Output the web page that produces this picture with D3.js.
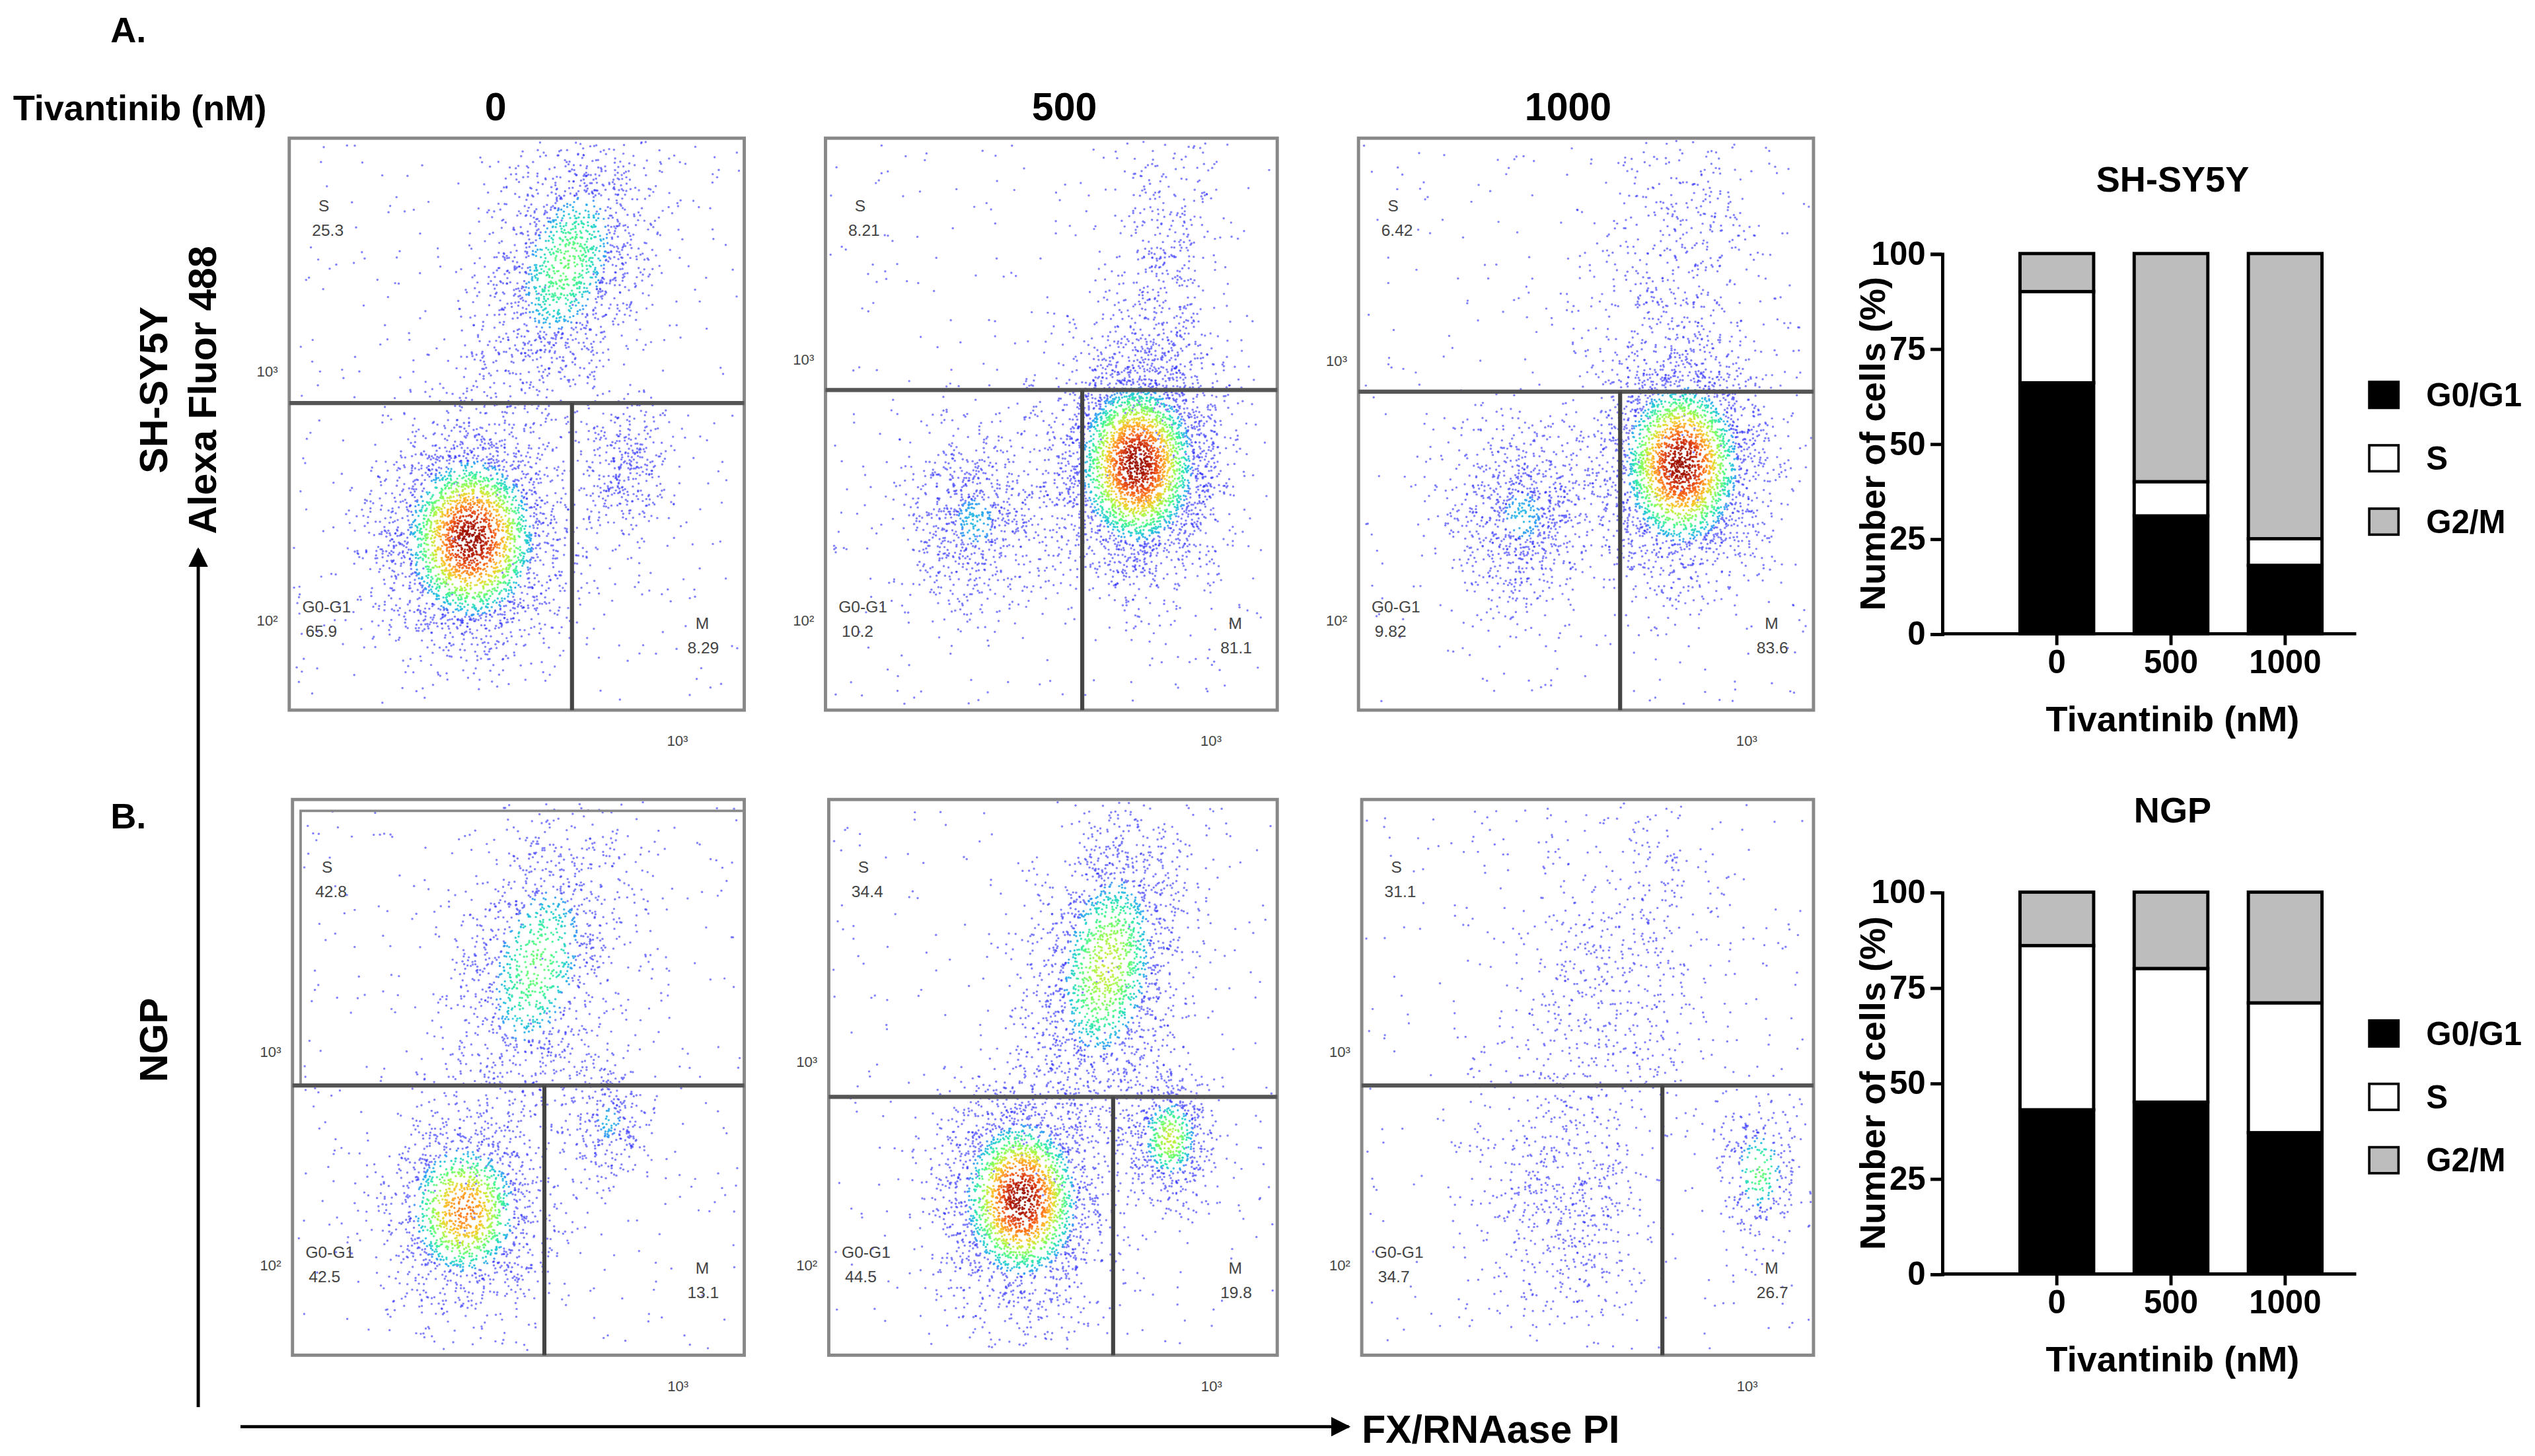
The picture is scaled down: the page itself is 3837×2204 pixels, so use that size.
<!DOCTYPE html>
<html><head><meta charset="utf-8">
<script src="https://cdn.jsdelivr.net/npm/d3@7"></script>
<style>body{margin:0;background:#fff}svg{display:block}</style></head>
<body><svg id="c" width="3837" height="2204" viewBox="0 0 1560 896"></svg>
<script>
// ---- data ----
const doses = ["0","500","1000"];
const phases = ["G0/G1","S","G2/M"];
const shsy5yG1 = [66,31,18], shsy5yS = [24,9,7], shsy5yG2 = [10,60,75];
const ngpG1 = [43,45,37], ngpS = [43,35,34], ngpG2 = [14,20,29];
const yTicks = [0,25,50,75,100];
const phaseColors = ["#000","#fff","#bdbdbd"];
// gate percentages [S, G0-G1, M]
const gatesA = [["25.3","65.9","8.29"],["8.21","10.2","81.1"],["6.42","9.82","83.6"]];
const gatesB = [["42.8","42.5","13.1"],["34.4","44.5","19.8"],["31.1","34.7","26.7"]];
// population descriptors per panel: [cx, cy, sx, sy, n, intensity, tilt]
const popsA = [
 [[0.40,0.70,0.10,0.10,3000,1.0,0],[0.61,0.22,0.10,0.12,1600,0.6,-0.5],[0.74,0.58,0.05,0.06,350,0.4,0]],
 [[0.33,0.67,0.08,0.08,800,0.45,0],[0.69,0.57,0.09,0.10,3500,1.0,0],[0.75,0.25,0.06,0.16,500,0.3,-0.6]],
 [[0.36,0.66,0.08,0.08,900,0.45,0],[0.71,0.57,0.09,0.10,3000,1.0,0],[0.70,0.20,0.10,0.13,450,0.25,-0.3]]];
const popsB = [
 [[0.38,0.74,0.09,0.09,1600,0.85,0],[0.54,0.30,0.10,0.14,1300,0.6,-0.5],[0.70,0.58,0.05,0.06,300,0.45,0]],
 [[0.43,0.72,0.09,0.10,2600,1.0,0],[0.62,0.30,0.09,0.14,1900,0.7,-0.4],[0.76,0.61,0.05,0.06,650,0.7,0]],
 [[0.45,0.75,0.10,0.10,500,0.4,0],[0.55,0.35,0.13,0.16,700,0.3,-0.3],[0.88,0.67,0.05,0.07,300,0.6,0]]];
// panel geometry (reference units)
const panelsA = [{x0:178,x1:458,y0:85,y1:437,gy:248,gx:352},{x0:508,x1:786,y0:85,y1:437,gy:240,gx:666},{x0:836,x1:1116,y0:85,y1:437,gy:241,gx:997}];
const panelsB = [{x0:180,x1:458,y0:492,y1:834,gy:668,gx:335,box:true},{x0:510,x1:786,y0:492,y1:834,gy:675,gx:685},{x0:838,x1:1116,y0:492,y1:834,gy:668,gx:1023}];

const svg = d3.select("#c");
const F = "Arial, 'Liberation Sans', sans-serif";
function txt(x,y,s,size,opt={}){
  const t=svg.append("text").attr("x",x).attr("y",y).text(s).attr("font-family",F).attr("font-size",size)
   .attr("font-weight",opt.w||"bold").attr("text-anchor",opt.a||"start").attr("fill",opt.f||"#000");
  if(opt.r) t.attr("transform",`rotate(-90,${x},${y})`);
  return t;
}
txt(68,26,"A.",22); txt(68,510,"B.",22);
txt(8,74,"Tivantinib (nM)",22);
[305,655,965].forEach((x,i)=>txt(x,74,doses[i],24,{a:"middle"}));
txt(103,240,"SH-SY5Y",24,{a:"middle",r:1});
txt(133,240,"Alexa Fluor 488",24,{a:"middle",r:1});
txt(103,640,"NGP",24,{a:"middle",r:1});

svg.append("defs").append("marker").attr("id","ah").attr("viewBox","0 0 10 10").attr("refX",9).attr("refY",5)
 .attr("markerWidth",6).attr("markerHeight",6).attr("orient","auto").append("path").attr("d","M0,0L10,5L0,10z");
svg.append("line").attr("x1",122).attr("y1",866).attr("x2",122).attr("y2",338).attr("stroke","#000").attr("stroke-width",2).attr("marker-end","url(#ah)");
svg.append("line").attr("x1",148).attr("y1",878).attr("x2",830).attr("y2",878).attr("stroke","#000").attr("stroke-width",2).attr("marker-end","url(#ah)");
txt(838,888,"FX/RNAase PI",24);

const rng = d3.randomLcg(0.4242);
const norm = d3.randomNormal.source(rng)(0,1);
function dotColor(d){
  if(d<0.4) return "#2e2eff";
  return d3.interpolateTurbo(0.18+0.78*(d-0.4)/0.6);
}
function drawPanel(p,pops,g){
  const xs=d3.scaleLinear().domain([0,1]).range([p.x0,p.x1]);
  const ys=d3.scaleLinear().domain([0,1]).range([p.y0,p.y1]);
  const gr=svg.append("g");
  const pts=[];
  for(let i=0;i<350;i++) pts.push([rng()*0.98+0.01,rng()*0.98+0.01,0]);
  pops.forEach(([cx,cy,sx,sy,n,inten,tilt])=>{
    for(let i=0;i<n;i++){
      const a=norm(),b=norm();
      const dx=a*sx, dy=b*sy+tilt*a*sx;
      const x=cx+dx, y=cy+dy;
      if(x<0.005||x>0.995||y<0.005||y>0.995) continue;
      const d=Math.exp(-(a*a+b*b)/2)*inten;
      pts.push([x,y,d]);
    }
  });
  pts.sort((u,v)=>u[2]-v[2]);
  gr.selectAll("circle").data(pts).join("circle")
   .attr("cx",d=>xs(d[0])).attr("cy",d=>ys(d[1])).attr("r",0.7)
   .attr("fill",d=>dotColor(d[2]))
   .attr("fill-opacity",d=>d[2]<0.4?0.6:0.9);
  svg.append("rect").attr("x",p.x0).attr("y",p.y0).attr("width",p.x1-p.x0).attr("height",p.y1-p.y0)
   .attr("fill","none").attr("stroke","#888").attr("stroke-width",2);
  if(p.box) svg.append("rect").attr("x",p.x0+5).attr("y",p.y0+7).attr("width",p.x1-p.x0-5).attr("height",p.gy-p.y0-7).attr("fill","none").attr("stroke","#888").attr("stroke-width",1.5);
  svg.append("line").attr("x1",p.x0).attr("x2",p.x1).attr("y1",p.gy).attr("y2",p.gy).attr("stroke","#555").attr("stroke-width",2.5);
  svg.append("line").attr("x1",p.gx).attr("x2",p.gx).attr("y1",p.gy).attr("y2",p.y1).attr("stroke","#444").attr("stroke-width",2.5);
  const o={w:"normal",f:"#444"};
  txt(p.x0+18,p.y0+45,"S",10,o); txt(p.x0+14,p.y0+60,g[0],10,o);
  txt(p.x0+8,p.y1-60,"G0-G1",10,o); txt(p.x0+10,p.y1-45,g[1],10,o);
  txt(p.x1-30,p.y1-50,"M",10,o); txt(p.x1-35,p.y1-35,g[2],10,o);
  txt(p.x0-20,p.y0+(p.gy-p.y0)*0.9,"10³",9,o);
  txt(p.x0-20,p.y1-52,"10²",9,o);
  txt(p.x0+(p.x1-p.x0)*0.83,p.y1+22,"10³",9,o);
}
panelsA.forEach((p,i)=>drawPanel(p,popsA[i],gatesA[i]));
panelsB.forEach((p,i)=>drawPanel(p,popsB[i],gatesB[i]));

function barChart(title,g1,s,g2,y0,y100,titleY,legY){
  const x=d3.scaleBand().domain(doses).range([1222,1450]).paddingInner(0.355).paddingOuter(0.3);
  const y=d3.scaleLinear().domain([0,100]).range([y0,y100]);
  const stack=doses.map((d,i)=>[g1[i],s[i],g2[i]]);
  stack.forEach((v,i)=>{
    let acc=0;
    v.forEach((val,k)=>{
      svg.append("rect").attr("x",x(doses[i])).attr("width",x.bandwidth())
       .attr("y",y(acc+val)).attr("height",y(acc)-y(acc+val))
       .attr("fill",phaseColors[k]).attr("stroke","#000").attr("stroke-width",2);
      acc+=val;
    });
  });
  const ya=svg.append("g").attr("transform",`translate(1195,0)`).call(d3.axisLeft(y).tickValues(yTicks).tickSize(7));
  const xa=svg.append("g").attr("transform",`translate(0,${y0})`).call(d3.axisBottom(x).tickSize(7));
  xa.select(".domain").attr("d",`M1195,0H1450`);
  [ya,xa].forEach(a=>{a.selectAll("path,line").attr("stroke","#000").attr("stroke-width",2);
    a.selectAll("text").attr("font-family",F).attr("font-size",20).attr("font-weight","bold").attr("fill","#000");});
  txt(1337,titleY,title,22,{a:"middle"});
  txt(1337,y0+60,"Tivantinib (nM)",22,{a:"middle"});
  txt(1160,(y0+y100)/2,"Number of cells (%)",22,{a:"middle",r:1});
  phases.forEach((ph,k)=>{
    svg.append("rect").attr("x",1458).attr("y",legY+k*39-8).attr("width",18).attr("height",16)
      .attr("fill",phaseColors[k]).attr("stroke","#000").attr("stroke-width",1.5);
    txt(1493,legY+k*39+7,ph,20);
  });
}
barChart("SH-SY5Y",shsy5yG1,shsy5yS,shsy5yG2,390,156,118,243);
barChart("NGP",ngpG1,ngpS,ngpG2,784,549,506,636);
</script></body></html>
